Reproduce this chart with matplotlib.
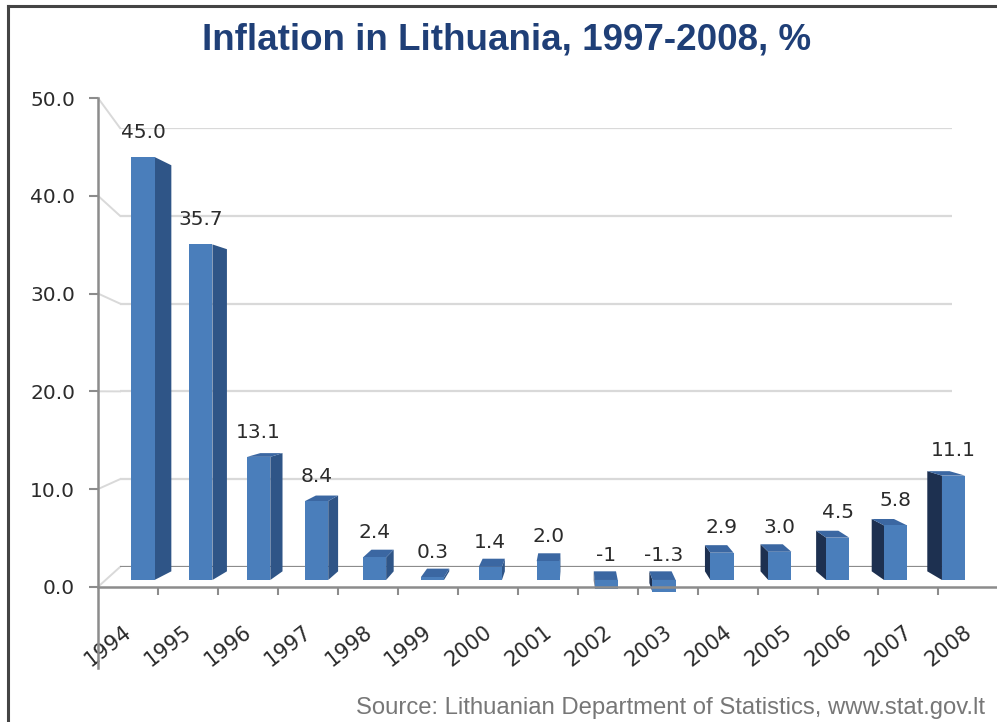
import matplotlib
matplotlib.use("Agg")

import matplotlib.pyplot as plt
from matplotlib.patches import Polygon
from matplotlib.lines import Line2D

# data
years = ["1994", "1995", "1996", "1997", "1998", "1999", "2000", "2001",
         "2002", "2003", "2004", "2005", "2006", "2007", "2008"]
inflation = [45.0, 35.7, 13.1, 8.4, 2.4, 0.3, 1.4, 2.0,
             -1.0, -1.3, 2.9, 3.0, 4.5, 5.8, 11.1]
value_labels = ["45.0", "35.7", "13.1", "8.4", "2.4", "0.3", "1.4", "2.0",
                "-1", "-1.3", "2.9", "3.0", "4.5", "5.8", "11.1"]
y_ticks = [0, 10, 20, 30, 40, 50]

W, H = 997, 722
FRONT = "#4A7EBB"
SIDE_L = "#2F5587"
SIDE_R = "#1D3050"
TOP = "#3B67A2"
GRID = "#d9d9d9"
AXIS = "#8c8c8c"
TXT = "#2b2b2b"

# fake perspective: vanishing point in bar-axes data units
VP_X = 7.46
EYE_Y = 23.0
S = 0.96


def px_box(left, right, top, bottom):
    # pixel box (from top-left) -> figure fraction rect
    return [left / W, (H - bottom) / H, (right - left) / W, (bottom - top) / H]


def recede(x, y):
    return (VP_X + S * (x - VP_X), EYE_Y + S * (y - EYE_Y))


fig = plt.figure(figsize=(W / 100, H / 100), dpi=100)
n = len(years)

# back wall with gridlines
ax_back = fig.add_axes(px_box(120, 952, 128, 567))
ax_back.set_xlim(-0.5, n - 0.5)
ax_back.set_ylim(0, 50)
for v in y_ticks:
    ax_back.axhline(v, color=AXIS if v == 0 else GRID, lw=1.6)
ax_back.axis("off")
ax_back.set_zorder(0)

# bars (mid depth plane)
ax_bar = fig.add_axes(px_box(114, 982.5, 110, 658))
ax_bar.set_xlim(-0.5, n - 0.5)
ax_bar.set_ylim(-8.3, 50)
ax_bar.axis("off")
ax_bar.patch.set_alpha(0)
ax_bar.set_zorder(1)

bw = 0.4
for i, v in enumerate(inflation):
    lo, hi = min(0, v), max(0, v)
    x0, x1 = i - bw / 2, i + bw / 2
    edge = x1 if i < VP_X else x0
    side = [(edge, lo), (edge, hi), recede(edge, hi), recede(edge, lo)]
    ax_bar.add_patch(Polygon(side, closed=True, fc=SIDE_L if i < VP_X else SIDE_R,
                             ec="none", zorder=1))
    if hi < EYE_Y:
        top = [(x0, hi), (x1, hi), recede(x1, hi), recede(x0, hi)]
        ax_bar.add_patch(Polygon(top, closed=True, fc=TOP, ec="none", zorder=1))

ax_bar.bar(range(n), inflation, width=bw, color=FRONT, zorder=2)

for i, (v, lab) in enumerate(zip(inflation, value_labels)):
    ax_bar.annotate(lab, (i, max(v, 0)), xytext=(0, 11), textcoords="offset points",
                    ha="center", va="bottom", fontsize=14.5, color=TXT, zorder=3)

# front axes: ticks and labels
ax = fig.add_axes(px_box(98, 998, 98, 668))
ax.set_xlim(-0.5, n - 0.5)
ax.set_ylim(-8.3, 50)
ax.patch.set_alpha(0)
ax.set_zorder(2)
for s in ["top", "right"]:
    ax.spines[s].set_visible(False)
ax.spines["left"].set_color(AXIS)
ax.spines["left"].set_linewidth(1.8)
ax.spines["bottom"].set_position(("data", 0))
ax.spines["bottom"].set_color(AXIS)
ax.spines["bottom"].set_linewidth(1.8)

ax.set_yticks(y_ticks)
ax.set_yticklabels([f"{t:.1f}" for t in y_ticks])
ax.tick_params(axis="y", direction="out", length=6.5, width=1.5, color=AXIS,
               pad=10, labelsize=14.5, labelcolor=TXT)

ax.set_xticks([i + 0.5 for i in range(n - 1)])
ax.set_xticklabels([])
ax.tick_params(axis="x", which="major", direction="out", length=6, width=1.5, color=AXIS)
ax.set_xticks([i - 0.08 for i in range(n)], minor=True)
ax.set_xticklabels(years, minor=True, rotation=38, ha="right", rotation_mode="anchor")
ax.tick_params(axis="x", which="minor", length=0, pad=25, labelsize=15, labelcolor=TXT)

# left wall diagonals front -> back
to_fig = fig.transFigure.inverted()
for v in y_ticks:
    p0 = to_fig.transform(ax.transData.transform((-0.5, v)))
    p1 = to_fig.transform(ax_back.transData.transform((-0.5, v)))
    fig.add_artist(Line2D([p0[0], p1[0]], [p0[1], p1[1]], color=GRID, lw=1.4, zorder=0))

fig.text(0.508, 0.945, "Inflation in Lithuania, 1997-2008, %", ha="center", va="center",
         fontsize=26.5, fontweight="bold", color="#1F3F77", family="Liberation Sans")
fig.text(985 / W, 1 - 708 / H, "Source: Lithuanian Department of Statistics, www.stat.gov.lt",
         ha="right", va="center", fontsize=17.2, color="#777777", family="Liberation Sans")

# frame border (top and left)
fig.add_artist(Line2D([8 / W, 1], [1 - 6 / H, 1 - 6 / H], color="#444444", lw=2.2))
fig.add_artist(Line2D([8 / W, 8 / W], [0, 1 - 6 / H], color="#444444", lw=2.2))

fig.savefig("out.png", dpi=100)
